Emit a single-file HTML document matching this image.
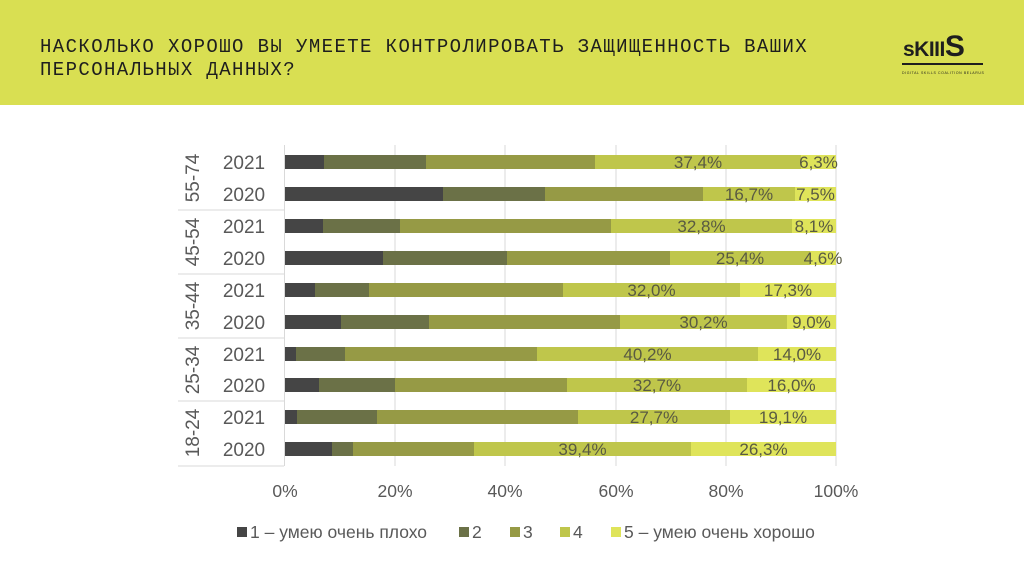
<!DOCTYPE html>
<html><head><meta charset="utf-8"><style>
html,body{margin:0;padding:0;width:1024px;height:576px;overflow:hidden;background:#fff}
</style></head><body>
<svg width="1024" height="576" xmlns="http://www.w3.org/2000/svg" font-family="Liberation Sans, DejaVu Sans, sans-serif">
<rect x="0" y="0" width="1024" height="105" fill="#d9df52"/>
<text x="40" y="52" font-family="Liberation Mono, monospace" font-size="19" letter-spacing="1.4" fill="#1e1e1e">НАСКОЛЬКО ХОРОШО ВЫ УМЕЕТЕ КОНТРОЛИРОВАТЬ ЗАЩИЩЕННОСТЬ ВАШИХ</text>
<text x="40" y="75" font-family="Liberation Mono, monospace" font-size="19" letter-spacing="1.4" fill="#1e1e1e">ПЕРСОНАЛЬНЫХ ДАННЫХ?</text>
<text x="903" y="56" font-size="21" font-weight="bold" fill="#1e1e1e" letter-spacing="-0.5">sKIII<tspan font-size="30">S</tspan></text>
<rect x="902" y="63" width="81" height="2" fill="#1e1e1e"/>
<text x="902" y="74" font-size="3.5" fill="#1e1e1e" letter-spacing="0.6">DIGITAL SKILLS COALITION BELARUS</text>
<g stroke="#d9d9d9" stroke-width="1">
<line x1="395" y1="145" x2="395" y2="466"/><line x1="505" y1="145" x2="505" y2="466"/>
<line x1="616" y1="145" x2="616" y2="466"/><line x1="726" y1="145" x2="726" y2="466"/>
<line x1="836" y1="145" x2="836" y2="466"/>
<line x1="284.5" y1="145" x2="284.5" y2="466"/>
<line x1="178" y1="210" x2="284" y2="210"/><line x1="178" y1="274" x2="284" y2="274"/>
<line x1="178" y1="338" x2="284" y2="338"/><line x1="178" y1="401" x2="284" y2="401"/>
<line x1="178" y1="466" x2="284" y2="466"/>
</g>
<g id="bars"></g>
<g font-size="19" fill="#595959" text-anchor="middle">
<text transform="translate(199,178) rotate(-90)">55-74</text>
<text transform="translate(199,242) rotate(-90)">45-54</text>
<text transform="translate(199,306) rotate(-90)">35-44</text>
<text transform="translate(199,370) rotate(-90)">25-34</text>
<text transform="translate(199,433) rotate(-90)">18-24</text>
</g>
<g font-size="19" fill="#595959" text-anchor="middle">
<text x="244" y="169">2021</text><text x="244" y="201">2020</text>
<text x="244" y="233">2021</text><text x="244" y="265">2020</text>
<text x="244" y="297">2021</text><text x="244" y="329">2020</text>
<text x="244" y="361">2021</text><text x="244" y="392">2020</text>
<text x="244" y="424">2021</text><text x="244" y="456">2020</text>
</g>
<g font-size="17.5" fill="#595959" text-anchor="middle">
<text x="285" y="497">0%</text><text x="395" y="497">20%</text><text x="505" y="497">40%</text>
<text x="616" y="497">60%</text><text x="726" y="497">80%</text><text x="836" y="497">100%</text>
</g>
<g font-size="17.5" fill="#595959">
<rect x="237" y="527" width="10" height="10" fill="#454545"/><text x="250" y="538">1 – умею очень плохо</text>
<rect x="459" y="527" width="10" height="10" fill="#6b7147"/><text x="472" y="538">2</text>
<rect x="510" y="527" width="10" height="10" fill="#969a45"/><text x="523" y="538">3</text>
<rect x="560" y="527" width="10" height="10" fill="#bfc64b"/><text x="573" y="538">4</text>
<rect x="611" y="527" width="10" height="10" fill="#dfe45a"/><text x="624" y="538">5 – умею очень хорошо</text>
</g>
<g id="labels" font-size="17" fill="#595a42" text-anchor="middle"></g>
</svg>
<script>
var rows=[[162,[285,324,426,595,801,836],"37,4%","6,3%"],[194,[285,443,545,703,795,836],"16,7%","7,5%"],
[226,[285,323,400,611,792,836],"32,8%","8,1%"],[258,[285,383,507,670,810,836],"25,4%","4,6%"],
[290,[285,315,369,563,740,836],"32,0%","17,3%"],[322,[285,341,429,620,787,836],"30,2%","9,0%"],
[354,[285,296,345,537,758,836],"40,2%","14,0%"],[385,[285,319,395,567,747,836],"32,7%","16,0%"],
[417,[285,297,377,578,730,836],"27,7%","19,1%"],[449,[285,332,353,474,691,836],"39,4%","26,3%"]];
var cols=["#454545","#6b7147","#969a45","#bfc64b","#dfe45a"];
var ns="http://www.w3.org/2000/svg",b=document.getElementById("bars"),l=document.getElementById("labels");
rows.forEach(function(r){var y=r[0],x=r[1];
for(var i=0;i<5;i++){var e=document.createElementNS(ns,"rect");e.setAttribute("x",x[i]);e.setAttribute("y",y-7);e.setAttribute("width",x[i+1]-x[i]);e.setAttribute("height",14);e.setAttribute("fill",cols[i]);b.appendChild(e);}
[[r[2],(x[3]+x[4])/2],[r[3],(x[4]+x[5])/2]].forEach(function(t){var e=document.createElementNS(ns,"text");e.setAttribute("x",t[1]);e.setAttribute("y",y+6);e.textContent=t[0];l.appendChild(e);});
});
</script>
</body></html>
